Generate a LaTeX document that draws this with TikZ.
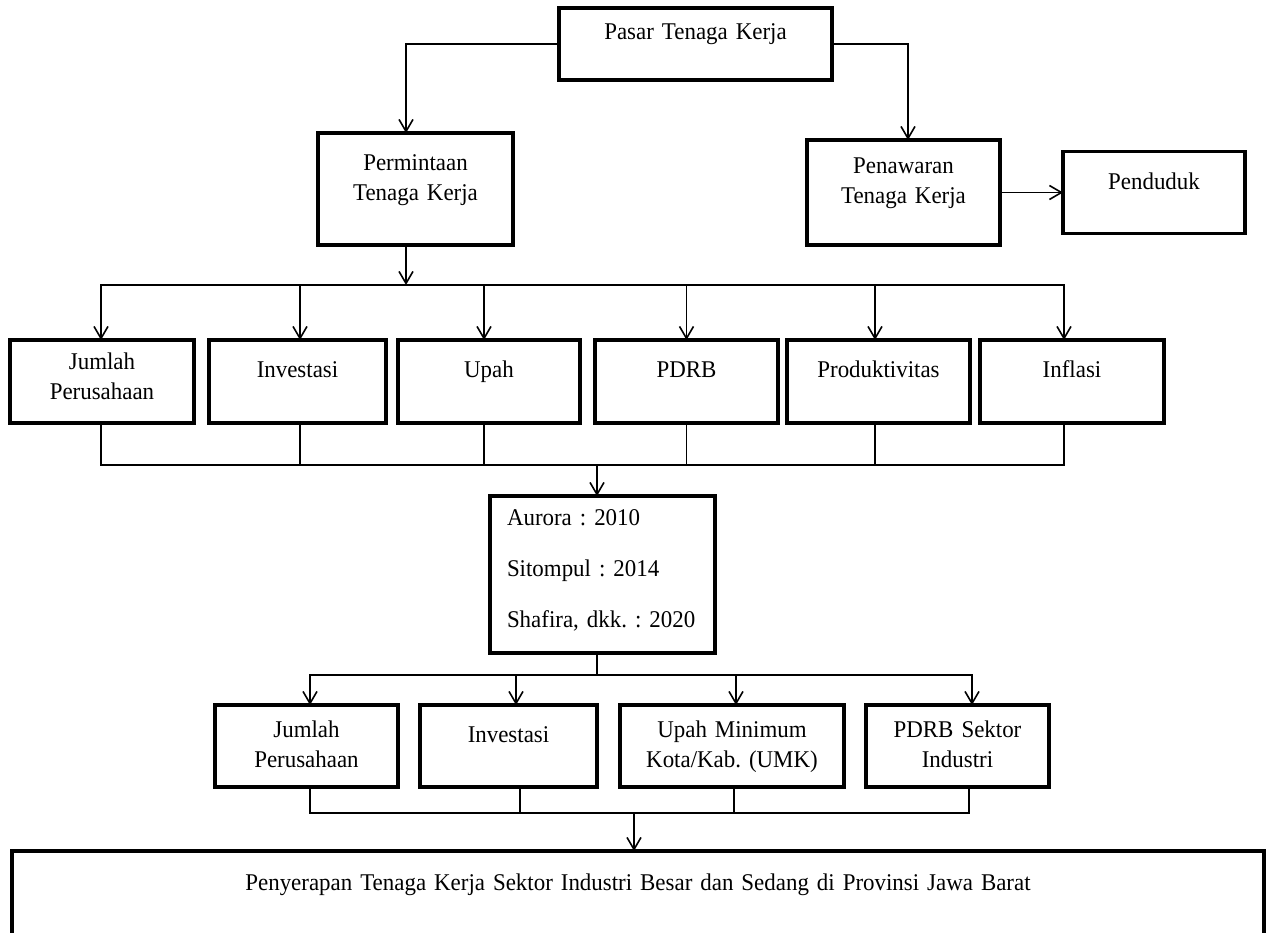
\documentclass[tikz,border=0pt]{standalone}
\usepackage{fontspec}
\setmainfont{Liberation Serif}[FakeStretch=0.955]
\usepackage{tikz}
\usetikzlibrary{arrows.meta, positioning, calc}
\frenchspacing
\tikzstyle{box} = [rectangle, draw=black, line width=1.6pt, inner xsep=2pt, inner ysep=0pt,
  outer sep=0pt, align=center, font=\fontsize{12}{15}\selectfont]
\tikzstyle{factorbox} = [box, text height=18.5pt, text depth=23pt]
\tikzstyle{varbox} = [box, text height=18.5pt, text depth=22.5pt]
\tikzstyle{arrow} = [line width=0.8pt, -{Straight Barb[length=6pt, width=7pt]}]
\tikzstyle{link} = [line width=0.8pt]

\begin{document}
\begin{tikzpicture}[x=0.5pt, y=-0.5pt]
  \useasboundingbox (0,0) rectangle (1274,932);

  % market, demand and supply
  \node (pasar) [box, text width=132.5pt, text height=15.5pt, text depth=20.5pt] at (695.5,44) {Pasar Tenaga Kerja};
  \node (perm)  [box, text width=93.5pt, text height=18.5pt, text depth=37.5pt] at (415.5,189) {Permintaan\\Tenaga Kerja};
  \node (penaw) [box, text width=92.5pt, text height=16.5pt, text depth=36pt] at (903.5,192.5) {Penawaran\\Tenaga Kerja};
  \node (pend)  [box, text width=87pt, text height=19pt, text depth=22pt, right=31.5pt of penaw] {Penduduk};

  % demand factors
  \node (jml1)  [factorbox, text width=88pt, text height=14.5pt, text depth=27pt] at (102,381.5) {Jumlah\\Perusahaan};
  \node (inv1)  [factorbox, text width=84.5pt, right=7.5pt of jml1] {Investasi};
  \node (upah1) [factorbox, text width=87pt, right=6pt of inv1] {Upah};
  \node (pdrb1) [factorbox, text width=87.5pt, right=7.5pt of upah1] {PDRB};
  \node (prod1) [factorbox, text width=87.5pt, right=4.5pt of pdrb1] {Produktivitas};
  \node (infl1) [factorbox, text width=88pt, right=5pt of prod1] {Inflasi};

  % earlier studies
  \node (aurora) [box, align=left, text width=95.5pt, inner xsep=8.5pt, text height=14.5pt, text depth=64pt] at (602.5,574.5)
    {Aurora : 2010\\[10.5pt]Sitompul : 2014\\[10.5pt]Shafira, dkk. : 2020};

  % variables used
  \node (jml2)  [varbox, text width=87.5pt, text height=16pt, text depth=25pt] at (306.5,746) {Jumlah\\Perusahaan};
  \node (inv2)  [varbox, text width=84.5pt, right=11pt of jml2] {Investasi};
  \node (umk)   [varbox, text width=108pt, text height=16pt, text depth=25pt, right=11.5pt of inv2] {Upah Minimum\\Kota/Kab. (UMK)};
  \node (pdrbs) [varbox, text width=87.5pt, text height=16pt, text depth=25pt, right=11pt of umk] {PDRB Sektor\\Industri};

  \node (final) [box, text width=622pt, text height=19.5pt, text depth=23pt] at (638,893.5)
    {Penyerapan Tenaga Kerja Sektor Industri Besar dan Sedang di Provinsi Jawa Barat};

  \coordinate (busA) at (406,285);
  \coordinate (busB) at (597,465);
  \coordinate (busC) at (597,675);
  \coordinate (busD) at (634,813);

  \draw[arrow] (pasar.west) -| ([xshift=-4.75pt]perm.north);
  \draw[arrow] (pasar.east) -| ([xshift=2.25pt]penaw.north);
  \draw[arrow] (penaw.east) -- (pend.west);
  \draw[arrow] ([xshift=-4.75pt]perm.south) -- (busA);

  \draw[arrow] (busA) -| ([xshift=-0.5pt]jml1.north);
  \draw[arrow] (busA) -| ([xshift=1.25pt]inv1.north);
  \draw[arrow] (busA) -| ([xshift=-2.5pt]upah1.north);
  \draw[arrow] (busA) -| (pdrb1.north);
  \draw[arrow] (busA) -| ([xshift=-1.75pt]prod1.north);
  \draw[arrow] (busA) -| ([xshift=-4pt]infl1.north);

  \draw[link] ([xshift=-0.5pt]jml1.south) |- (busB);
  \draw[link] ([xshift=1.25pt]inv1.south) |- (busB);
  \draw[link] ([xshift=-2.5pt]upah1.south) |- (busB);
  \draw[link] (pdrb1.south) |- (busB);
  \draw[link] ([xshift=-1.75pt]prod1.south) |- (busB);
  \draw[link] ([xshift=-4pt]infl1.south) |- (busB);
  \draw[arrow] (busB) -- (busB |- aurora.north);

  \draw[link] (aurora.south -| busC) -- (busC);
  \draw[arrow] (busC) -| ([xshift=1.75pt]jml2.north);
  \draw[arrow] (busC) -| ([xshift=3.75pt]inv2.north);
  \draw[arrow] (busC) -| ([xshift=2pt]umk.north);
  \draw[arrow] (busC) -| ([xshift=7.25pt]pdrbs.north);

  \draw[link] ([xshift=1.75pt]jml2.south) |- (busD);
  \draw[link] ([xshift=5.75pt]inv2.south) |- (busD);
  \draw[link] ([xshift=1pt]umk.south) |- (busD);
  \draw[link] ([xshift=5.75pt]pdrbs.south) |- (busD);
  \draw[arrow] (busD) -- (busD |- final.north);
\end{tikzpicture}
\end{document}
